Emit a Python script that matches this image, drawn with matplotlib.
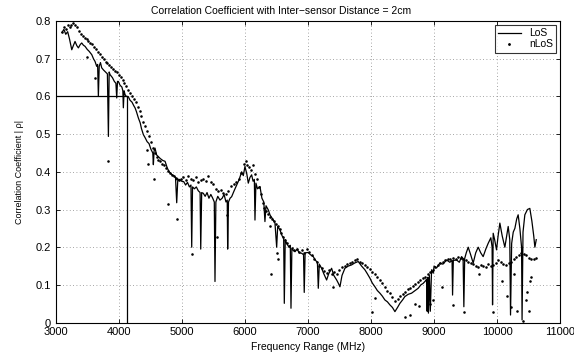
import numpy as np
import matplotlib
matplotlib.use("Agg")
import matplotlib.pyplot as plt

plt.rcParams['font.family'] = ['Liberation Sans', 'DejaVu Sans']

# LoS curve (frequency in MHz, |rho|)
los_f = [3100, 3130, 3160, 3190, 3220, 3255, 3280, 3307, 3335, 3360, 3390, 3413, 3440, 3466,
         3500, 3530, 3572, 3600, 3624, 3650, 3665, 3677, 3690, 3710, 3730, 3760, 3790, 3820,
         3836, 3848, 3862, 3900, 3930, 3955, 3968, 3980, 3994, 4020, 4050, 4065, 4073, 4085,
         4100, 4120, 4150, 4179, 4210, 4240, 4258, 4280, 4311, 4340, 4360, 4390, 4420, 4450,
         4480, 4510, 4540, 4549, 4560, 4575, 4600, 4630, 4660, 4700, 4734, 4770, 4800, 4840,
         4870, 4900, 4919, 4935, 4960, 4998, 5030, 5060, 5090, 5120, 5145, 5157, 5170, 5200,
         5230, 5260, 5290, 5300, 5315, 5341, 5370, 5400, 5430, 5460, 5490, 5515, 5526, 5540,
         5570, 5605, 5640, 5670, 5700, 5720, 5727, 5740, 5765, 5790, 5830, 5870, 5910, 5949,
         5975, 6001, 6030, 6054, 6080, 6107, 6130, 6150, 6160, 6175, 6200, 6239, 6270, 6300,
         6318, 6335, 6371, 6400, 6440, 6477, 6504, 6520, 6556, 6590, 6615, 6625, 6640, 6662,
         6700, 6720, 6731, 6745, 6794, 6830, 6860, 6900, 6930, 6941, 6955, 7005, 7040, 7084,
         7120, 7150, 7164, 7180, 7217, 7250, 7296, 7330, 7375, 7410, 7455, 7480, 7507, 7540,
         7586, 7640, 7692, 7740, 7797, 7850, 7903, 7940, 7982, 8020, 8062, 8100, 8141, 8180,
         8220, 8260, 8299, 8340, 8379, 8420, 8458, 8500, 8537, 8590, 8643, 8700, 8748, 8790,
         8827, 8860, 8880, 8890, 8900, 8910, 8925, 8940, 8960, 8986, 9000, 9040, 9092, 9140,
         9198, 9250, 9285, 9293, 9305, 9357, 9400, 9436, 9460, 9472, 9485, 9510, 9541, 9580,
         9620, 9660, 9699, 9740, 9778, 9820, 9857, 9900, 9920, 9927, 9937, 9960, 9990, 10015,
         10043, 10080, 10122, 10150, 10175, 10200, 10212, 10230, 10255, 10281, 10310, 10333,
         10360, 10387, 10395, 10410, 10439, 10480, 10518, 10550, 10580, 10598, 10620]
los_r = [0.770, 0.778, 0.765, 0.772, 0.752, 0.724, 0.735, 0.746, 0.735, 0.729, 0.738, 0.742, 0.736, 0.733,
         0.725, 0.720, 0.711, 0.700, 0.693, 0.680, 0.685, 0.600, 0.680, 0.690, 0.676, 0.670, 0.665, 0.660,
         0.494, 0.665, 0.658, 0.650, 0.640, 0.635, 0.596, 0.640, 0.640, 0.630, 0.625, 0.615, 0.570, 0.615,
         0.605, 0.600, 0.600, 0.590, 0.585, 0.575, 0.570, 0.560, 0.543, 0.530, 0.515, 0.499, 0.490, 0.480,
         0.475, 0.460, 0.450, 0.419, 0.455, 0.463, 0.445, 0.440, 0.435, 0.430, 0.428, 0.410, 0.400, 0.393,
         0.390, 0.385, 0.318, 0.375, 0.380, 0.375, 0.374, 0.365, 0.372, 0.360, 0.365, 0.200, 0.360, 0.355,
         0.360, 0.350, 0.345, 0.195, 0.345, 0.343, 0.335, 0.345, 0.330, 0.340, 0.330, 0.320, 0.109, 0.320,
         0.335, 0.325, 0.330, 0.340, 0.320, 0.325, 0.195, 0.320, 0.330, 0.334, 0.350, 0.365, 0.380, 0.400,
         0.390, 0.414, 0.395, 0.370, 0.385, 0.392, 0.375, 0.380, 0.272, 0.370, 0.355, 0.361, 0.330, 0.320,
         0.268, 0.310, 0.299, 0.285, 0.275, 0.264, 0.200, 0.255, 0.246, 0.230, 0.225, 0.051, 0.220, 0.210,
         0.200, 0.205, 0.038, 0.195, 0.188, 0.195, 0.185, 0.184, 0.180, 0.080, 0.185, 0.186, 0.180, 0.175,
         0.165, 0.160, 0.091, 0.155, 0.144, 0.130, 0.113, 0.130, 0.144, 0.125, 0.113, 0.105, 0.095, 0.125,
         0.144, 0.150, 0.153, 0.158, 0.162, 0.150, 0.140, 0.130, 0.118, 0.105, 0.095, 0.085, 0.078, 0.070,
         0.060, 0.055, 0.047, 0.040, 0.029, 0.040, 0.051, 0.060, 0.069, 0.075, 0.078, 0.085, 0.091, 0.100,
         0.104, 0.110, 0.115, 0.030, 0.120, 0.025, 0.125, 0.030, 0.140, 0.131, 0.150, 0.145, 0.158, 0.155,
         0.166, 0.160, 0.165, 0.073, 0.165, 0.166, 0.160, 0.175, 0.170, 0.042, 0.170, 0.185, 0.200, 0.180,
         0.158, 0.185, 0.200, 0.185, 0.175, 0.195, 0.210, 0.225, 0.200, 0.047, 0.237, 0.220, 0.193, 0.230,
         0.264, 0.230, 0.200, 0.230, 0.255, 0.220, 0.020, 0.210, 0.240, 0.250, 0.275, 0.286,
         0.250, 0.200, 0.007, 0.240, 0.286, 0.300, 0.303, 0.270, 0.230, 0.200, 0.220]

# nLoS samples, main band
nlos_f = [3100, 3130, 3160, 3190, 3220, 3250, 3280, 3310, 3340, 3370, 3400, 3430, 3460, 3490,
          3520, 3550, 3580, 3610, 3640, 3670, 3700, 3730, 3760, 3790, 3820, 3850, 3880, 3910,
          3940, 3970, 4000, 4030, 4060, 4090, 4120, 4150, 4180, 4210, 4240, 4270, 4300, 4330,
          4360, 4390, 4420, 4450, 4480, 4510, 4540, 4570, 4600, 4630, 4660, 4690, 4720, 4750,
          4780, 4810, 4840, 4870, 4900, 4930, 4960, 4990, 5020, 5060, 5100, 5140, 5180, 5220,
          5260, 5300, 5340, 5380, 5420, 5460, 5500, 5540, 5580, 5620, 5660, 5700, 5740, 5780,
          5820, 5860, 5900, 5940, 5980, 6010, 6040, 6070, 6100, 6130, 6160, 6190, 6220, 6250,
          6280, 6310, 6340, 6370, 6400, 6430, 6460, 6490, 6520, 6550, 6580, 6610, 6640, 6670,
          6700, 6740, 6780, 6820, 6860, 6900, 6940, 6980, 7020, 7060, 7100, 7140, 7180, 7220,
          7260, 7300, 7340, 7380, 7420, 7460, 7500, 7540, 7580, 7620, 7660, 7700, 7740, 7780,
          7820, 7860, 7900, 7940, 7980, 8020, 8060, 8100, 8140, 8180, 8220, 8260, 8300, 8340,
          8380, 8420, 8460, 8500, 8540, 8580, 8620, 8660, 8700, 8740, 8780, 8820, 8860, 8900,
          8940, 8980, 9020, 9060, 9100, 9140, 9180, 9220, 9260, 9300, 9340, 9380, 9420, 9460,
          9500, 9540, 9580, 9620, 9660, 9700, 9740, 9780, 9820, 9860, 9900, 9940, 9980, 10020,
          10060, 10100, 10140, 10180, 10220, 10260, 10300, 10340, 10380, 10420, 10460, 10500,
          10540, 10580, 10610]
nlos_r = [0.770, 0.785, 0.780, 0.790, 0.785, 0.790, 0.795, 0.790, 0.785, 0.775, 0.765, 0.760, 0.755, 0.752,
          0.748, 0.742, 0.738, 0.732, 0.725, 0.718, 0.712, 0.705, 0.700, 0.692, 0.688, 0.684, 0.678, 0.672,
          0.668, 0.664, 0.658, 0.652, 0.645, 0.636, 0.628, 0.618, 0.610, 0.600, 0.592, 0.585, 0.572, 0.562,
          0.548, 0.532, 0.522, 0.508, 0.495, 0.480, 0.462, 0.450, 0.440, 0.432, 0.428, 0.422, 0.418, 0.410,
          0.402, 0.398, 0.392, 0.388, 0.384, 0.380, 0.378, 0.380, 0.385, 0.378, 0.388, 0.382, 0.378, 0.385,
          0.372, 0.378, 0.382, 0.375, 0.388, 0.372, 0.368, 0.355, 0.348, 0.352, 0.345, 0.340, 0.350, 0.362,
          0.368, 0.372, 0.382, 0.398, 0.420, 0.428, 0.418, 0.412, 0.405, 0.418, 0.395, 0.380, 0.360, 0.340,
          0.318, 0.305, 0.295, 0.288, 0.280, 0.275, 0.270, 0.262, 0.255, 0.248, 0.238, 0.228, 0.218, 0.210,
          0.204, 0.198, 0.192, 0.195, 0.188, 0.192, 0.185, 0.194, 0.186, 0.178, 0.170, 0.160, 0.150, 0.145,
          0.138, 0.132, 0.140, 0.128, 0.135, 0.130, 0.140, 0.148, 0.150, 0.155, 0.158, 0.162, 0.165, 0.168,
          0.160, 0.158, 0.152, 0.148, 0.142, 0.135, 0.128, 0.120, 0.112, 0.105, 0.095, 0.085, 0.078, 0.068,
          0.058, 0.062, 0.070, 0.075, 0.080, 0.088, 0.092, 0.098, 0.102, 0.108, 0.112, 0.118, 0.122, 0.128,
          0.135, 0.140, 0.148, 0.152, 0.158, 0.160, 0.165, 0.168, 0.170, 0.172, 0.168, 0.175, 0.172, 0.168,
          0.165, 0.162, 0.158, 0.155, 0.150, 0.148, 0.152, 0.150, 0.148, 0.155, 0.150, 0.152, 0.158, 0.165,
          0.160, 0.155, 0.152, 0.158, 0.162, 0.168, 0.175, 0.180, 0.185, 0.182, 0.178, 0.172,
          0.168, 0.170, 0.172]

# nLoS scattered low samples
nlos_out_f = [3493, 3624, 3836, 4443, 4460, 4560, 4776, 4919, 5157, 5553, 5711, 6398, 6409, 6504,
              6520, 7401, 8009, 8062, 8537, 8620, 8700, 8760, 8930, 8990, 9119, 9293, 9472, 9710,
              9937, 10070, 10150, 10215, 10260, 10310, 10410, 10450, 10480, 10500, 10520, 10530]
nlos_out_r = [0.704, 0.649, 0.428, 0.459, 0.420, 0.381, 0.314, 0.275, 0.181, 0.228, 0.286, 0.255, 0.129, 0.184,
              0.170, 0.095, 0.029, 0.065, 0.016, 0.020, 0.050, 0.045, 0.050, 0.060, 0.095, 0.047, 0.027, 0.130,
              0.029, 0.109, 0.070, 0.040, 0.130, 0.030, 0.005, 0.060, 0.080, 0.030, 0.110, 0.120]

# reference marker at rho = 0.6
ref_f = [3000, 4131, 4131]
ref_r = [0.6, 0.6, 0.0]

fig = plt.figure(figsize=(5.74, 3.58), dpi=100)
ax = fig.add_axes([0.097, 0.099, 0.879, 0.842])

ax.plot(ref_f, ref_r, color='black', lw=0.9)
ax.plot(los_f, los_r, color='black', lw=0.9, label='LoS')
ax.plot(nlos_f, nlos_r, '.', color='black', ms=1.7, label='nLoS')
ax.plot(nlos_out_f, nlos_out_r, '.', color='black', ms=1.7)

ax.set_xlim(3000, 11000)
ax.set_ylim(0, 0.8)
ax.set_xticks(np.arange(3000, 11001, 1000))
ax.set_yticks(np.arange(0, 0.81, 0.1))
ax.set_yticklabels(['0', '0.1', '0.2', '0.3', '0.4', '0.5', '0.6', '0.7', '0.8'])
ax.tick_params(direction='in', top=True, right=True, labelsize=8, length=3, width=0.6)
ax.grid(True, linestyle=(0, (1, 3)), color='#888888', lw=0.6)
for s in ax.spines.values():
    s.set_linewidth(0.8)

ax.set_title('Correlation Coefficient with Inter\u2212sensor Distance = 2cm', fontsize=7.5, pad=5, x=0.447)
ax.set_xlabel('Frequency Range (MHz)', fontsize=7.5, labelpad=3)
ax.set_ylabel('Correlation Coefficient | \u03c1|', fontsize=6.5, labelpad=8)

leg = ax.legend(loc='upper right', fontsize=7.5, frameon=True, fancybox=False,
                borderpad=0.3, handlelength=2.2, labelspacing=0.1, markerscale=1.2,
                borderaxespad=0.4)
leg.get_frame().set_edgecolor('black')
leg.get_frame().set_linewidth(0.8)

fig.savefig('out.png', dpi=100)
